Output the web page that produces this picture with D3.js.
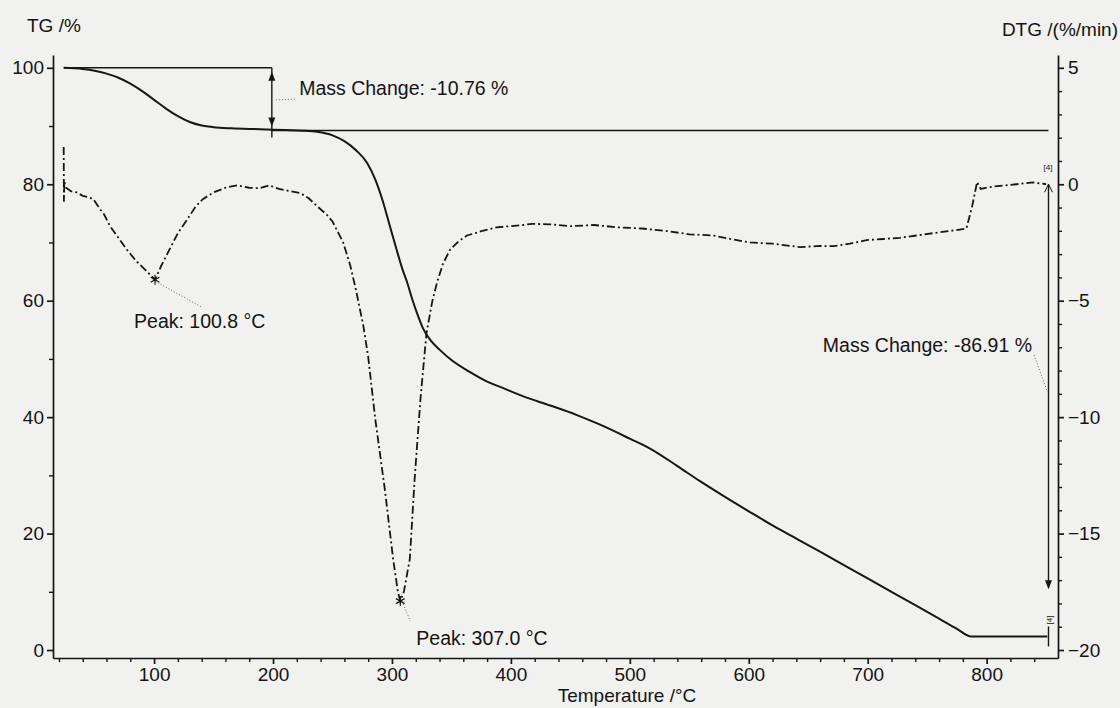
<!DOCTYPE html>
<html><head><meta charset="utf-8">
<script src="https://cdn.jsdelivr.net/npm/d3@7"></script>
<style>
body{margin:0;background:#f1f1ef;}
svg{display:block;}
text{font-family:"Liberation Sans",Arial,sans-serif;fill:#141414;}
</style>
</head><body>
<svg id="c" width="1120" height="708"></svg>
<script>
// ---- data ----
const tgTemp = [24,40,50,60,70,80,90,100,110,120,130,140,150,165,189,210,225,237,250,260,270,279,286,292,298,304,309,313,317,321,326,332,340,350,365,380,391,410,433,455,475,500,517,540,559,580,601,620,643,658,680,700,720,740,760,775,787,851];
const tgVal  = [100,99.8,99.5,99.0,98.3,97.3,96.0,94.5,93.0,91.7,90.7,90.1,89.8,89.6,89.45,89.3,89.2,89.0,88.4,87.4,85.8,83.7,80.8,77.3,73.0,68.7,65.3,63,60.3,57.9,55.3,53.3,51.6,49.8,47.8,46.1,45.2,43.6,42,40.4,38.7,36.3,34.6,31.6,29.0,26.3,23.7,21.4,18.8,17.1,14.6,12.3,10.0,7.7,5.4,3.65,2.33,2.33];

const dtgTemp = [24,24.2,24.5,26,30,35,40,45,49,55,58,63,70,77,85,93,100.8,106,113,120,128,135,141,150,161,170,180,189,197,205,215,223,230,237,245,250,255,259,265,270,276,280,286,294,301,305,307,310,315,319,324,329,334,338,343,349,356,363,370,376,388,399,410,418,433,450,470,490,510,530,550,570,590,601,620,643,660,671,685,699,713,727,741,755,770,783,785,788,792,795,805,815,825,839,850];
const dtgVal  = [1.6,-0.75,0.1,-0.15,-0.3,-0.35,-0.5,-0.55,-0.65,-1.1,-1.3,-1.8,-2.3,-2.8,-3.3,-3.7,-4.1,-3.5,-2.8,-2.1,-1.5,-0.95,-0.64,-0.35,-0.13,-0.05,-0.15,-0.17,-0.05,-0.2,-0.3,-0.38,-0.6,-0.94,-1.3,-1.6,-2.1,-2.5,-3.5,-4.6,-6.1,-7.4,-10.1,-13.1,-16.1,-17.5,-17.9,-17.5,-16.1,-12.7,-9.2,-6.4,-5.0,-4.2,-3.4,-2.8,-2.45,-2.2,-2.1,-2.0,-1.85,-1.8,-1.75,-1.7,-1.72,-1.8,-1.75,-1.85,-1.9,-2.0,-2.15,-2.2,-2.4,-2.5,-2.55,-2.7,-2.65,-2.66,-2.55,-2.4,-2.35,-2.3,-2.2,-2.1,-2.0,-1.9,-1.5,-0.9,0.1,-0.2,-0.1,-0.05,0,0.08,0];

const xTicks = [100,200,300,400,500,600,700,800];
const tgTicks = [0,20,40,60,80,100];
const dtgTicks = [-20,-15,-10,-5,0,5];

const step1 = {from:100, to:89.24, label:"Mass Change: -10.76 %", tStart:24, tArrow:199};
const step2 = {label:"Mass Change: -86.91 %", tArrow:852, tEnd:851, final:2.33};
const peaks = [{t:100.8, v:-4.1, label:"Peak: 100.8 °C"},{t:307.0, v:-17.9, label:"Peak: 307.0 °C"}];

// ---- scales ----
const svg = d3.select("#c");
const L=53, R=1058, B=658, T=55;
const x = d3.scaleLinear().domain([15,860]).range([L,R]);
const yTG = d3.scaleLinear().domain([-1.37,102.2]).range([B,T]);
const yDTG = d3.scaleLinear().domain([-20.3425,5.55]).range([B,T]);
const ink = "#161616";
const FS = 19, FA = 19.5;

function styleAxis(g){
  g.selectAll("path,line").attr("stroke",ink).attr("stroke-width",1.7);
  g.selectAll("text").attr("font-size",FS).attr("fill",ink);
}
function minorStyle(g){g.select(".domain").remove();g.selectAll("line").attr("stroke",ink).attr("stroke-width",1.4);}

const xMinor = d3.range(20,860,20).filter(v=>v%100!==0);
svg.append("g").attr("transform",`translate(0,${B})`)
  .call(d3.axisBottom(x).tickValues(xMinor).tickSize(4).tickFormat("")).call(minorStyle);
svg.append("g").attr("transform",`translate(0,${B})`)
  .call(d3.axisBottom(x).tickValues(xTicks).tickSize(6).tickPadding(4).tickSizeOuter(0).tickFormat(d3.format("d")))
  .call(styleAxis);

const tgMinor = [10,30,50,70,90];
svg.append("g").attr("transform",`translate(${L},0)`)
  .call(d3.axisLeft(yTG).tickValues(tgMinor).tickSize(4).tickFormat("")).call(minorStyle);
svg.append("g").attr("transform",`translate(${L},0)`)
  .call(d3.axisLeft(yTG).tickValues(tgTicks).tickSize(6).tickPadding(3).tickSizeOuter(0))
  .call(styleAxis);

const dtgMinor = d3.range(-20,6,1).filter(v=>v%5!==0);
svg.append("g").attr("transform",`translate(${R},0)`)
  .call(d3.axisRight(yDTG).tickValues(dtgMinor).tickSize(4).tickFormat("")).call(minorStyle);
svg.append("g").attr("transform",`translate(${R},0)`)
  .call(d3.axisRight(yDTG).tickValues(dtgTicks).tickSize(6).tickPadding(4).tickSizeOuter(0))
  .call(styleAxis);

// axis titles
svg.append("text").attr("x",27).attr("y",32).attr("font-size",FS).text("TG /%");
svg.append("text").attr("x",1118).attr("y",36).attr("font-size",FS).attr("text-anchor","end").text("DTG /(%/min)");
svg.append("text").attr("x",627).attr("y",702).attr("font-size",FS).attr("text-anchor","middle").text("Temperature /°C");

// curves
const tgData = tgTemp.map((t,i)=>[t,tgVal[i]]);
const dtgData = dtgTemp.map((t,i)=>[t,dtgVal[i]]);
svg.append("path").datum(tgData)
  .attr("d",d3.line().x(d=>x(d[0])).y(d=>yTG(d[1])).curve(d3.curveMonotoneX))
  .attr("fill","none").attr("stroke",ink).attr("stroke-width",2);
svg.append("path").datum(dtgData)
  .attr("d",d3.line().x(d=>x(d[0])).y(d=>yDTG(d[1])).curve(d3.curveLinear))
  .attr("fill","none").attr("stroke",ink).attr("stroke-width",1.8)
  .attr("stroke-dasharray","8,3,2,3");

// step 1 annotation
const thin = 1.4;
svg.append("line").attr("x1",x(step1.tStart)).attr("x2",x(step1.tArrow)).attr("y1",yTG(step1.from)).attr("y2",yTG(step1.from)).attr("stroke",ink).attr("stroke-width",thin);
svg.append("line").attr("x1",x(step1.tArrow)).attr("x2",x(step2.tArrow)).attr("y1",yTG(step1.to)).attr("y2",yTG(step1.to)).attr("stroke",ink).attr("stroke-width",thin);
const ax1 = x(step1.tArrow);
svg.append("line").attr("x1",ax1).attr("x2",ax1).attr("y1",yTG(step1.from)).attr("y2",yTG(step1.to)+7).attr("stroke",ink).attr("stroke-width",thin);
function arrowHead(px,py,dir){ // dir -1 up, +1 down
  svg.append("path").attr("d",`M${px},${py} L${px-3.5},${py-dir*9} L${px+3.5},${py-dir*9} Z`).attr("fill",ink);
}
arrowHead(ax1, yTG(step1.from)+4, -1);
arrowHead(ax1, yTG(step1.to)-4, 1);
svg.append("line").attr("x1",ax1+4).attr("x2",x(220)).attr("y1",100).attr("y2",99).attr("stroke","#666").attr("stroke-width",1).attr("stroke-dasharray","1,2");
svg.append("text").attr("x",x(222)).attr("y",95).attr("font-size",FA).text(step1.label);

// step 2 annotation
const ax2 = x(step2.tArrow);
svg.append("line").attr("x1",ax2).attr("x2",ax2).attr("y1",yDTG(0)).attr("y2",yDTG(-17.3)).attr("stroke",ink).attr("stroke-width",thin);
arrowHead(ax2, yDTG(-17.3)+2, 1);
svg.append("path").attr("d",`M${ax2-4},${yDTG(0)+8} L${ax2},${yDTG(0)} L${ax2+4},${yDTG(0)+8}`).attr("fill","none").attr("stroke",ink).attr("stroke-width",1);
svg.append("line").attr("x1",ax2).attr("x2",ax2).attr("y1",yTG(step2.final)-10).attr("y2",yTG(step2.final)+10).attr("stroke",ink).attr("stroke-width",thin);
svg.append("line").attr("x1",1034).attr("x2",ax2-1).attr("y1",355).attr("y2",392).attr("stroke","#666").attr("stroke-width",1).attr("stroke-dasharray","1,2");
svg.append("text").attr("x",1032).attr("y",352).attr("font-size",FA).attr("text-anchor","end").text(step2.label);
svg.append("text").attr("x",ax2-5).attr("y",yDTG(0)-14).attr("font-size",8).text("[4]");
svg.append("text").attr("transform",`translate(${ax2+4},${yTG(step2.final)-12}) rotate(-90)`).attr("font-size",8).text("[4]");

// peaks
const pOff = [[46,27],[10,20]];
const lOff = [[-21,48],[16,44]];
peaks.forEach((p,i)=>{
  const px=x(p.t), py=yDTG(p.v);
  svg.append("path").attr("transform",`translate(${px},${py})`)
    .attr("d",d3.symbol(d3.symbolAsterisk,70)()).attr("fill","none").attr("stroke",ink).attr("stroke-width",1.2);
  svg.append("line").attr("x1",px+3).attr("y1",py+3).attr("x2",px+pOff[i][0]).attr("y2",py+pOff[i][1]).attr("stroke","#666").attr("stroke-width",1).attr("stroke-dasharray","1,2");
  svg.append("text").attr("x",px+lOff[i][0]).attr("y",py+lOff[i][1]).attr("font-size",FA).text(p.label);
});
</script>
</body></html>
